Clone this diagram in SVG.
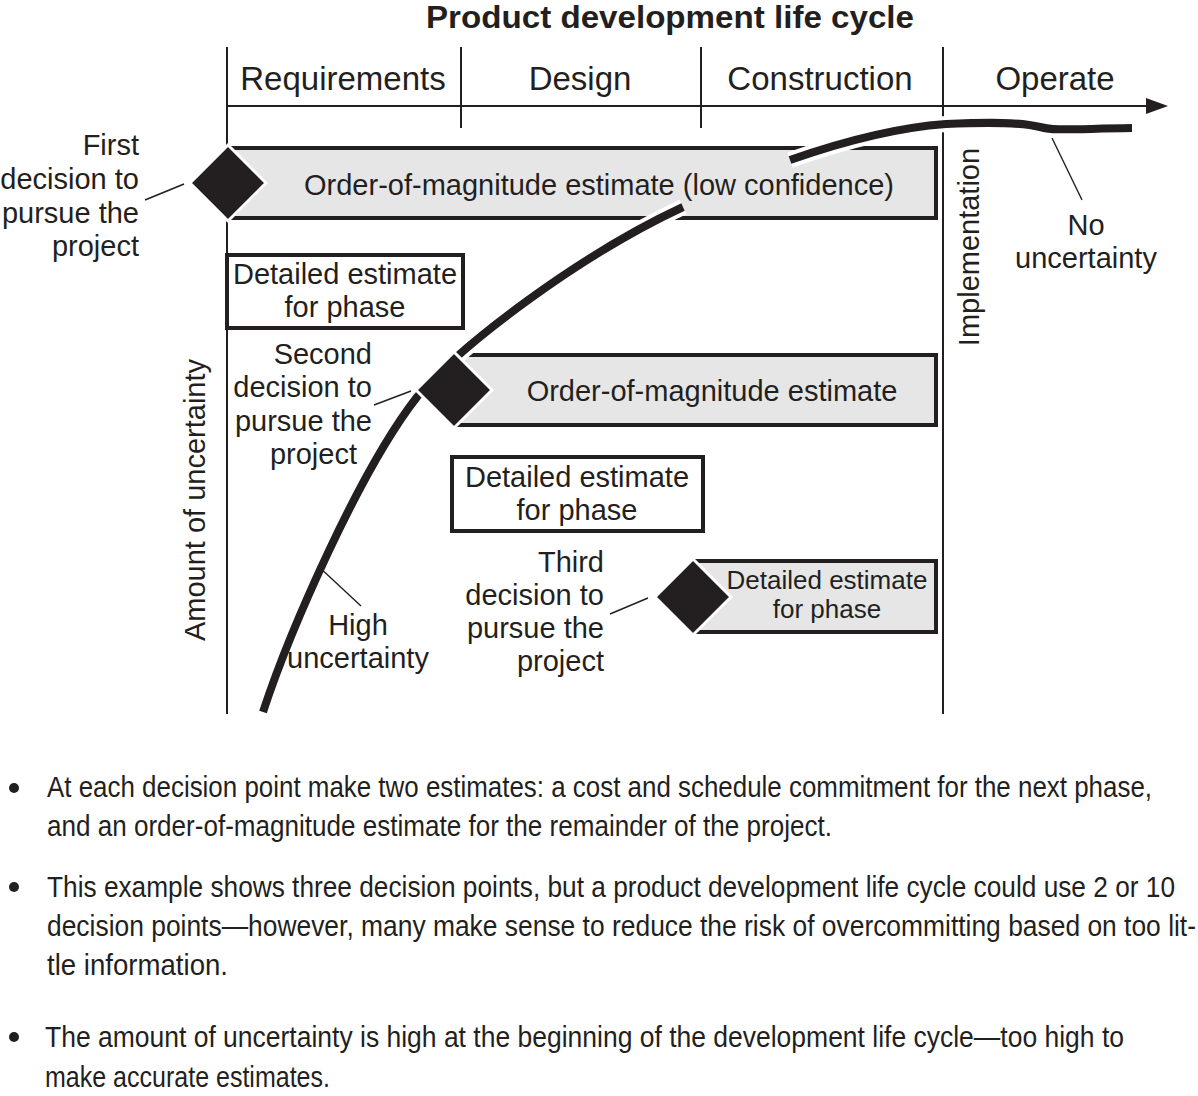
<svg xmlns="http://www.w3.org/2000/svg" width="1198" height="1096" viewBox="0 0 1198 1096">
<style>
text{font-family:"Liberation Sans",Arial,Helvetica,sans-serif;fill:#231f20}
.t{font-size:29px}
.ph{font-size:33px;text-anchor:middle}
.mid{text-anchor:middle}
.end{text-anchor:end}
.ax{stroke:#231f20;stroke-width:2;fill:none}
.lead{stroke:#231f20;stroke-width:1.4;fill:none}
.gbox{fill:#e6e6e6;stroke:#231f20;stroke-width:4}
.wbox{fill:#fff;stroke:#231f20;stroke-width:4}
.dia{fill:#231f20;stroke:#fff;stroke-width:3}
.halo{stroke:#fff;stroke-width:16;fill:none}
.crv{stroke:#231f20;stroke-width:8;fill:none}
.bul{font-size:29px}
</style>
<rect width="1198" height="1096" fill="#fff"/>
<text x="670" y="28" font-size="31" font-weight="bold" text-anchor="middle" textLength="488" lengthAdjust="spacingAndGlyphs">Product development life cycle</text>
<g id="axes">
<line class="ax" x1="227" y1="47" x2="227" y2="714"/>
<line class="ax" x1="461" y1="47" x2="461" y2="128"/>
<line class="ax" x1="701" y1="47" x2="701" y2="128"/>
<line class="ax" x1="943" y1="47" x2="943" y2="714"/>
<line class="ax" x1="227" y1="106" x2="1150" y2="106"/>
<polygon points="1146,98 1168,106 1146,114" fill="#231f20"/>
<text class="ph" x="343" y="90">Requirements</text>
<text class="ph" x="580" y="90">Design</text>
<text class="ph" x="820" y="90">Construction</text>
<text class="ph" x="1055" y="90">Operate</text>
<text class="t mid" transform="translate(979,247) rotate(-90)">Implementation</text>
<text class="t mid" transform="translate(205,500) rotate(-90)">Amount of uncertainty</text>
</g>
<g id="box1"><rect class="gbox" x="228" y="148" width="708" height="70"/></g>
<g id="box2"><rect class="wbox" x="227" y="255" width="236" height="73"/>
<text class="t mid" x="345" y="284">Detailed estimate</text>
<text class="t mid" x="345" y="317">for phase</text></g>
<g id="box3"><rect class="gbox" x="455" y="355" width="481" height="70"/></g>
<g id="box4"><rect class="wbox" x="452" y="457" width="251" height="74"/>
<text class="t mid" x="577" y="487">Detailed estimate</text>
<text class="t mid" x="577" y="520">for phase</text></g>
<g id="box5"><rect class="gbox" x="693" y="561" width="243" height="71"/></g>
<g id="connectors">
<path class="halo" d="M263,712 C290,630 360,470 417,397 C460,345 580,255 683,207"/>
<path class="crv" d="M263,712 C290,630 360,470 417,397 C460,345 580,255 683,207"/>
<path class="halo" d="M790,160 C830,146 890,128 946,124 C990,122 1020,122 1040,127 C1055,131 1070,129 1132,128"/>
<path class="crv" d="M790,160 C830,146 890,128 946,124 C990,122 1020,122 1040,127 C1055,131 1070,129 1132,128"/>
<line class="lead" x1="145" y1="200" x2="184" y2="184"/>
<line class="lead" x1="374" y1="405" x2="411" y2="391"/>
<line class="lead" x1="610" y1="614" x2="648" y2="598"/>
<line class="lead" x1="318" y1="566" x2="361" y2="606"/>
<line class="lead" x1="1052" y1="138" x2="1082" y2="200"/>
</g>
<g id="d1"><polygon class="dia" points="228,145 266,183 228,221 190,183"/>
<text class="t mid" x="599" y="195">Order-of-magnitude estimate (low confidence)</text>
<text class="t end" x="139" y="155">First</text>
<text class="t end" x="139" y="189">decision to</text>
<text class="t end" x="139" y="223">pursue the</text>
<text class="t end" x="139" y="256">project</text></g>
<g id="d2"><polygon class="dia" points="454,352 492,390 454,428 416,390"/>
<text class="t mid" x="712" y="401">Order-of-magnitude estimate</text>
<text class="t end" x="372" y="364">Second</text>
<text class="t end" x="372" y="397">decision to</text>
<text class="t end" x="372" y="431">pursue the</text>
<text class="t end" x="357" y="464">project</text></g>
<g id="d3"><polygon class="dia" points="693,559 731,597 693,635 655,597"/>
<text class="mid" font-size="26" x="827" y="589">Detailed estimate</text>
<text class="mid" font-size="26" x="827" y="618">for phase</text>
<text class="t end" x="604" y="572">Third</text>
<text class="t end" x="604" y="605">decision to</text>
<text class="t end" x="604" y="638">pursue the</text>
<text class="t end" x="604" y="671">project</text></g>
<g id="labels">
<text class="t mid" x="358" y="635">High</text>
<text class="t mid" x="358" y="668">uncertainty</text>
<text class="t mid" x="1086" y="235">No</text>
<text class="t mid" x="1086" y="268">uncertainty</text>
</g>
<g id="bullets">
<circle cx="14" cy="788" r="5" fill="#231f20"/>
<circle cx="14" cy="887" r="5" fill="#231f20"/>
<circle cx="14" cy="1037" r="5" fill="#231f20"/>
<text class="bul" x="47" y="797" textLength="1105" lengthAdjust="spacingAndGlyphs">At each decision point make two estimates: a cost and schedule commitment for the next phase,</text>
<text class="bul" x="47" y="836" textLength="785" lengthAdjust="spacingAndGlyphs">and an order-of-magnitude estimate for the remainder of the project.</text>
<text class="bul" x="47" y="897" textLength="1128" lengthAdjust="spacingAndGlyphs">This example shows three decision points, but a product development life cycle could use 2 or 10</text>
<text class="bul" x="47" y="936" textLength="1149" lengthAdjust="spacingAndGlyphs">decision points—however, many make sense to reduce the risk of overcommitting based on too lit-</text>
<text class="bul" x="47" y="975" textLength="181" lengthAdjust="spacingAndGlyphs">tle information.</text>
<text class="bul" x="45" y="1047" textLength="1079" lengthAdjust="spacingAndGlyphs">The amount of uncertainty is high at the beginning of the development life cycle—too high to</text>
<text class="bul" x="45" y="1087" textLength="285" lengthAdjust="spacingAndGlyphs">make accurate estimates.</text>
</g>
</svg>
